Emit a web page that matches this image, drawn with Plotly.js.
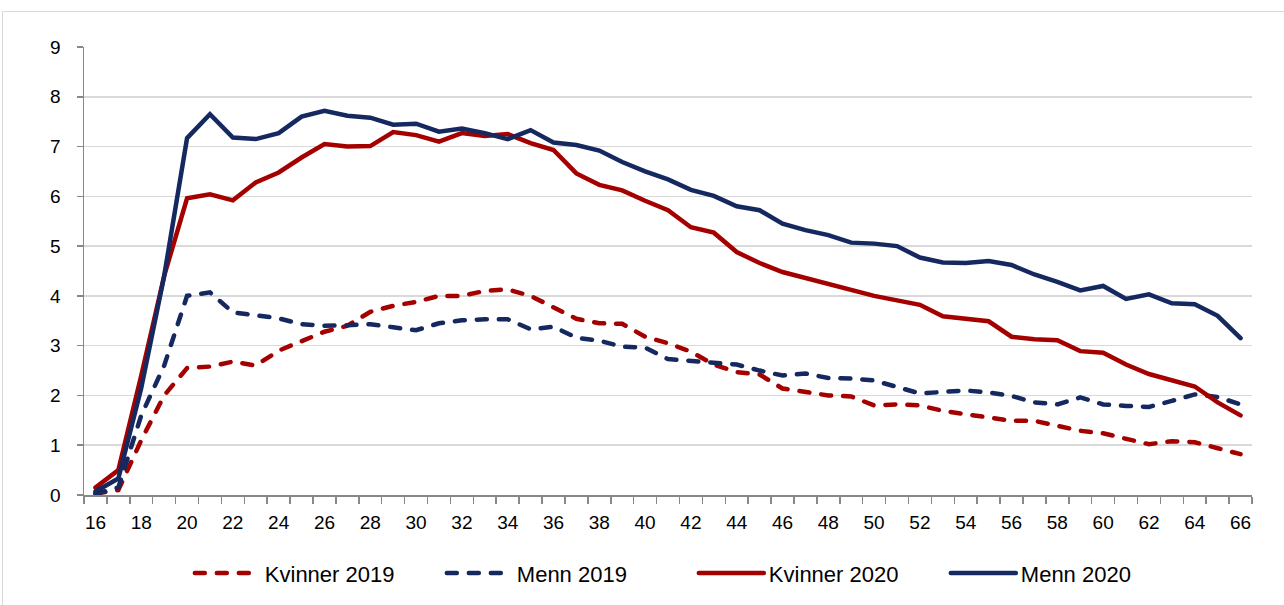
<!DOCTYPE html>
<html>
<head>
<meta charset="utf-8">
<script src="https://cdn.plot.ly/plotly-3.0.1.min.js"></script>
<style>
  html, body { margin: 0; padding: 0; background: #fff; }
  #wrap { position: relative; width: 1284px; height: 605px; }
  #chart { position: absolute; left: 0; top: 0; width: 1284px; height: 605px; }
  #frame { position: absolute; left: 2px; top: 11px; right: 0; bottom: 0;
           border-left: 1.5px solid #d9d9d9; border-top: 1.5px solid #d9d9d9; pointer-events: none; }
  .js-line { stroke-linecap: round; }
</style>
</head>
<body>
<div id="wrap">
  <div id="chart"></div>
  <div id="frame"></div>
</div>
<script>
const ages = [16,17,18,19,20,21,22,23,24,25,26,27,28,29,30,31,32,33,34,35,36,37,38,39,40,41,
  42,43,44,45,46,47,48,49,50,51,52,53,54,55,56,57,58,59,60,61,62,63,64,65,66];

const kvinner2019 = [0.03,0.1,1.1,2.0,2.55,2.58,2.68,2.6,2.9,3.08,3.28,3.4,3.68,3.8,3.88,4.0,4.0,4.1,4.13,4.0,
  3.76,3.54,3.45,3.44,3.18,3.05,2.88,2.62,2.47,2.42,2.14,2.07,2.0,1.98,1.8,1.82,1.8,1.69,1.62,1.56,
  1.49,1.49,1.39,1.29,1.24,1.12,1.02,1.08,1.06,0.94,0.82];

const menn2019 = [0.02,0.15,1.6,2.6,4.0,4.07,3.67,3.61,3.55,3.43,3.4,3.41,3.43,3.37,3.31,3.45,3.51,3.53,3.53,3.33,
  3.38,3.16,3.1,2.98,2.96,2.73,2.69,2.65,2.62,2.5,2.4,2.44,2.35,2.34,2.3,2.17,2.04,2.07,2.1,2.06,
  1.99,1.86,1.82,1.96,1.82,1.79,1.77,1.89,2.02,1.97,1.82];

const kvinner2020 = [0.15,0.5,2.4,4.4,5.96,6.04,5.92,6.28,6.48,6.78,7.05,7.0,7.01,7.29,7.23,7.1,7.27,7.21,7.25,7.07,
  6.93,6.46,6.23,6.12,5.91,5.72,5.38,5.27,4.88,4.66,4.48,4.36,4.24,4.13,4.0,3.91,3.82,3.59,3.54,3.49,
  3.18,3.13,3.11,2.89,2.86,2.62,2.43,2.3,2.18,1.86,1.6];

const menn2020 = [0.07,0.33,2.15,4.4,7.17,7.65,7.18,7.15,7.27,7.6,7.72,7.62,7.58,7.44,7.46,7.3,7.36,7.27,7.15,7.33,
  7.08,7.03,6.92,6.69,6.5,6.34,6.13,6.01,5.8,5.72,5.45,5.32,5.22,5.07,5.05,5.0,4.77,4.67,4.66,4.7,
  4.62,4.43,4.28,4.11,4.2,3.94,4.03,3.85,3.83,3.6,3.15];

const xTickLabels = ages.filter(a => a % 2 === 0);
const yTicks = [0,1,2,3,4,5,6,7,8,9];

const RED = '#A50000';
const NAVY = '#15285F';
const DASH = '10px,12px';

const traces = [
  {name: 'Kvinner 2019', x: ages, y: kvinner2019, mode: 'lines', line: {color: RED, width: 4.5, dash: DASH}},
  {name: 'Menn 2019', x: ages, y: menn2019, mode: 'lines', line: {color: NAVY, width: 4.5, dash: DASH}},
  {name: 'Kvinner 2020', x: ages, y: kvinner2020, mode: 'lines', line: {color: RED, width: 4.5}},
  {name: 'Menn 2020', x: ages, y: menn2020, mode: 'lines', line: {color: NAVY, width: 4.5}}
];

const FONT = '"Liberation Sans", Arial, sans-serif';

const layout = {
  width: 1284, height: 605,
  margin: {l: 84, r: 32, t: 47, b: 109},
  paper_bgcolor: 'rgba(0,0,0,0)',
  plot_bgcolor: '#fff',
  font: {family: FONT, size: 19, color: '#000'},
  showlegend: true,
  legend: {
    orientation: 'h', x: 0.0906, xanchor: 'left', y: -0.172, yanchor: 'middle',
    font: {family: FONT, size: 22, color: '#000'},
    itemwidth: 65, traceorder: 'normal', bgcolor: 'rgba(0,0,0,0)',
    entrywidth: 172, entrywidthmode: 'pixels'
  },
  xaxis: {
    range: [15.5, 66.5],
    tickmode: 'array', tickvals: xTickLabels, ticktext: xTickLabels.map(String),
    ticks: '', showgrid: false, zeroline: false,
    showline: true, linecolor: '#888', linewidth: 1.5,
    ticklabelstandoff: 10,
    minor: {tickmode: 'linear', tick0: 15.5, dtick: 1, ticks: 'outside', ticklen: 7, tickcolor: '#888', tickwidth: 1.5, showgrid: false}
  },
  yaxis: {
    range: [0, 9],
    tickmode: 'array', tickvals: yTicks, ticktext: yTicks.map(String),
    ticks: 'outside', ticklen: 6, tickcolor: '#888', tickwidth: 1.5,
    showline: true, linecolor: '#888', linewidth: 1.5,
    showgrid: true, gridcolor: '#d9d9d9', gridwidth: 1.5,
    zeroline: false, ticklabelstandoff: 12
  }
};

Plotly.newPlot('chart', traces, layout, {displayModeBar: false, staticPlot: true});
</script>
</body>
</html>
